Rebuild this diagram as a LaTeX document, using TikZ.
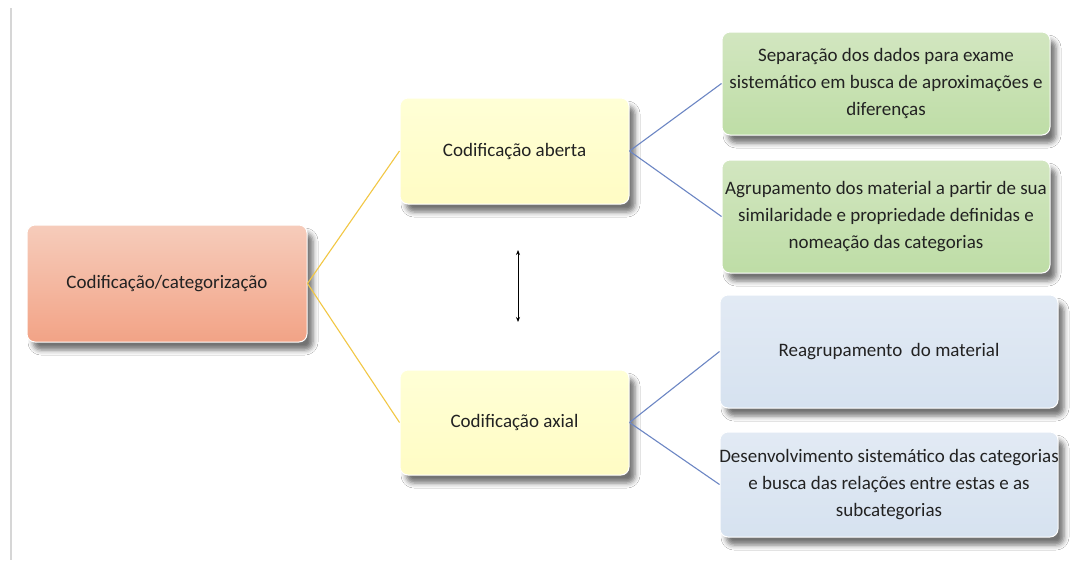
\documentclass[tikz,border=0pt]{standalone}
\usepackage{fontspec}
\setmainfont{Carlito}
\usetikzlibrary{shadows.blur,arrows.meta}
\definecolor{rootTop}{HTML}{F6CCBB}
\definecolor{rootBot}{HTML}{F2A386}
\definecolor{yelTop}{HTML}{FFFFD6}
\definecolor{yelBot}{HTML}{FFFCC4}
\definecolor{grnTop}{HTML}{D2E6C0}
\definecolor{grnBot}{HTML}{BEDDA6}
\definecolor{bluTop}{HTML}{E2EAF4}
\definecolor{bluBot}{HTML}{D6E2F0}
\definecolor{yline}{HTML}{F2C744}
\definecolor{bline}{HTML}{6C86C4}
\definecolor{txt}{HTML}{222222}
\tikzset{
  boxbase/.style={rounded corners=8pt, draw=white, line width=1pt, align=center,
    text=txt, font=\fontsize{19}{27}\selectfont, inner ysep=4pt, inner xsep=-12pt,
    blur shadow={shadow xshift=6pt, shadow yshift=-8pt, shadow blur radius=5pt, shadow opacity=55}},
  rootbox/.style={boxbase, top color=rootTop, bottom color=rootBot},
  yelbox/.style={boxbase, top color=yelTop, bottom color=yelBot},
  grnbox/.style={boxbase, top color=grnTop, bottom color=grnBot},
  blubox/.style={boxbase, top color=bluTop, bottom color=bluBot},
  yconn/.style={draw=yline, line width=1.1pt},
  bconn/.style={draw=bline, line width=1.1pt},
}
\begin{document}
\begin{tikzpicture}[x=1pt,y=-1pt]
\useasboundingbox (0,0) rectangle (1070,560);
\fill[white] (0,0) rectangle (1070,560);
\draw[draw=black!16, line width=2pt] (10.5,8) -- (10.5,560);
\node[rootbox, minimum width=280pt, minimum height=117pt] (root) at (167,283.5) {Codificação/categorização};
\node[yelbox, minimum width=229pt, minimum height=106pt] (aberta) at (514.5,151) {Codificação aberta};
\node[yelbox, minimum width=229pt, minimum height=105pt] (axial) at (514.5,422.5) {Codificação axial};
\node[grnbox, minimum width=328pt, minimum height=103pt] (g1) at (886,83.5) {Separação dos dados para exame\\sistemático em busca de aproximações e\\diferenças};
\node[grnbox, minimum width=328pt, minimum height=113pt] (g2) at (886,216.5) {Agrupamento dos material a partir de sua\\similaridade e propriedade definidas e\\nomeação das categorias};
\node[blubox, minimum width=338pt, minimum height=113pt] (b1) at (889,351.5) {Reagrupamento\ \ do material};
\node[blubox, minimum width=338pt, minimum height=105pt] (b2) at (889,484.5) {Desenvolvimento sistemático das categorias\\e busca das relações entre estas e as\\subcategorias};
\draw[yconn] (root.east) -- (aberta.west);
\draw[yconn] (root.east) -- (axial.west);
\draw[bconn] (aberta.east) -- (g1.west);
\draw[bconn] (aberta.east) -- (g2.west);
\draw[bconn] (axial.east) -- (b1.west);
\draw[bconn] (axial.east) -- (b2.west);
\coordinate (arrTop) at (518,250);
\coordinate (arrBot) at (518,322);
\draw[{Stealth[length=5pt,width=4pt]}-{Stealth[length=5pt,width=4pt]}, line width=1pt] (arrTop) -- (arrBot);
\end{tikzpicture}
\end{document}
